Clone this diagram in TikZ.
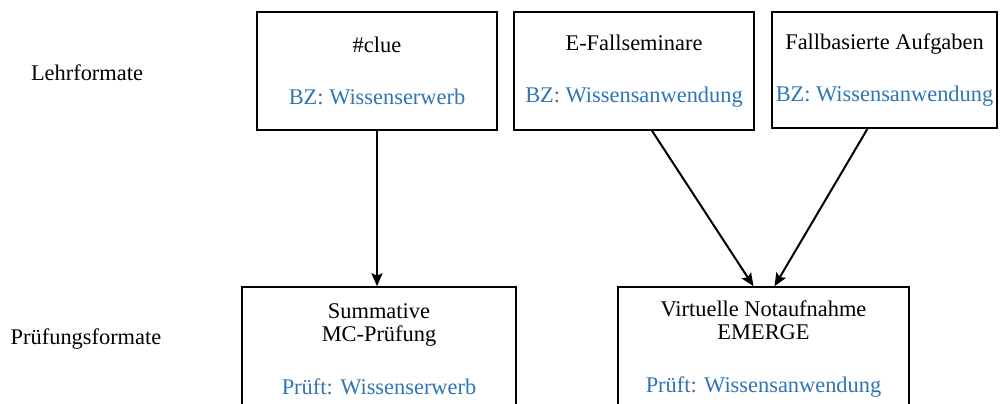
\documentclass[tikz,border=0pt]{standalone}
\usepackage{fontspec}
\setmainfont{Liberation Serif}
\usepackage{tikz}
\usetikzlibrary{arrows.meta}
\definecolor{bzblau}{RGB}{46,117,182}

\begin{document}
\begin{tikzpicture}[x=.5pt,y=-.5pt,
  kasten/.style={draw,line width=.75pt,inner sep=0pt,align=center,
    font=\fontsize{11.2}{11.5}\selectfont},
  titel/.style={font=\fontsize{11.2}{11.5}\selectfont},
  pfeil/.style={-{Stealth[length=6.5pt,width=5.5pt,inset=1.2pt]},line width=1pt}]
\pgfsetlinewidth{.5pt}
\useasboundingbox (0,0) rectangle (1001,403);
%
% Zeilen
\node[titel] (lehr) at (87,73) {Lehrformate};
\node[titel] (pruef) at (86,339) {Prüfungsformate};
%
% Lehrformate
\node[kasten,minimum width=120pt,minimum height=59pt] (clue) at (377,71)
  {\#clue\\[14.5pt]\textcolor{bzblau}{BZ: Wissenserwerb}};
\node[kasten,minimum width=120pt,minimum height=59pt] (fallsem) at (634,71)
  {E-Fallseminare\\[14.5pt]\textcolor{bzblau}{BZ: Wissensanwendung}};
\node[kasten,minimum width=112.5pt,minimum height=58pt] (aufgaben) at (884.5,70)
  {Fallbasierte Aufgaben\\[14.5pt]\textcolor{bzblau}{BZ: Wissensanwendung}};
%
% Prüfungsformate
\node[kasten,minimum width=137pt,minimum height=62pt] (mcpruef) at (379,349)
  {Summative\\MC-Prüfung\\[15pt]\textcolor{bzblau}{Prüft: Wissenserwerb}};
\node[kasten,minimum width=145.5pt,minimum height=62pt] (emerge) at (763.5,349)
  {Virtuelle Notaufnahme\\EMERGE\\[15pt]\textcolor{bzblau}{Prüft: Wissensanwendung}};
%
% Pfeile
\draw[pfeil] (clue.south) -- (clue.south |- mcpruef.north);
\draw[pfeil] ([xshift=9pt]fallsem.south) -- ([xshift=-5pt]emerge.north);
\draw[pfeil] ([xshift=-8.5pt]aufgaben.south) -- ([xshift=5.5pt]emerge.north);
\end{tikzpicture}
\end{document}
